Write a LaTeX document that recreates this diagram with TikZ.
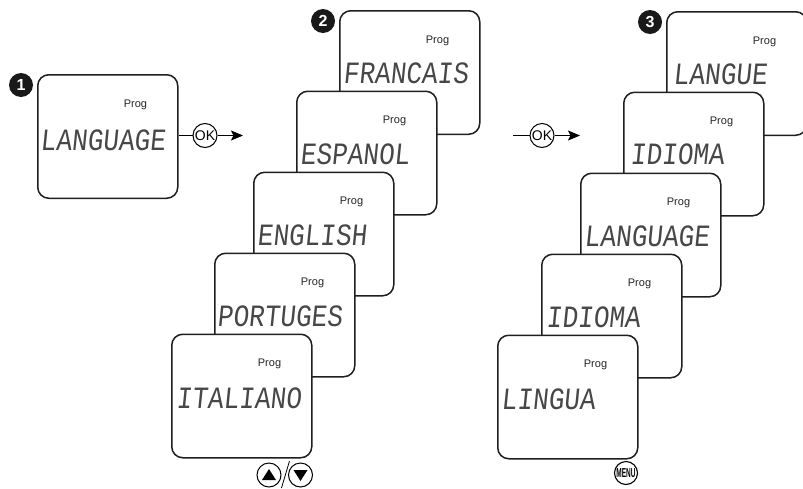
\documentclass[tikz,border=0pt]{standalone}
\usepackage{fontspec}
\setmainfont{Liberation Sans}
\newfontfamily\lcdfont[FakeSlant=0.1,FakeStretch=0.84]{Liberation Mono}
\newfontfamily\menufont[FakeStretch=0.5]{Liberation Sans}
\usetikzlibrary{arrows.meta}
\tikzset{
 x=1pt,y=-1pt,
 screen/.style={draw=black!88,fill=white,line width=1.5pt,rounded corners=11pt,minimum width=140pt,minimum height=123.5pt,inner sep=0pt,anchor=north west},
 prog/.style={font=\fontsize{11}{12}\selectfont,text=black!85,inner sep=0pt},
 lcd/.style={font=\lcdfont\fontsize{31}{32}\selectfont,text=black!72,inner sep=0pt,anchor=west},
 badge/.style={circle,fill=black!90,text=white,font=\bfseries\fontsize{16}{16}\selectfont,minimum size=24pt,inner sep=0pt},
 btn/.style={circle,draw=black,fill=white,line width=1pt,minimum size=24pt,inner sep=0pt},
 okbtn/.style={btn,font=\fontsize{14}{14}\selectfont},
 menubtn/.style={btn,line width=1.1pt,minimum size=23pt,font=\menufont\bfseries\fontsize{13}{13}\selectfont},
 link/.style={draw=black,line width=0.8pt},
 arrowlink/.style={link,-{Stealth[length=12pt,width=10pt,inset=2.5pt]}}
}
\newcommand{\lcdscreen}[6]{%
 \node[screen] (#1) at (#2,#3) {};
 \node[prog] (#1p) at (#2+98.5,#3+30.5) {Prog};
 \node[lcd] (#1t) at (#2+#5,#3+#6) {#4};
}
\begin{document}
\begin{tikzpicture}
\useasboundingbox (0,0) rectangle (803,488);
\begin{scope}
\clip (0,0) rectangle (803,488);
\lcdscreen{a}{37}{74}{LANGUAGE}{3}{66}
\lcdscreen{b}{339}{10}{FRANCAIS}{4}{63}
\lcdscreen{c}{296}{90.5}{ESPANOL}{4}{64}
\lcdscreen{d}{253}{171.5}{ENGLISH}{4}{64}
\lcdscreen{e}{214}{252.5}{PORTUGES}{3}{64}
\lcdscreen{f}{171}{333.5}{ITALIANO}{5}{65}
\lcdscreen{g}{666}{11}{LANGUE}{7}{63}
\lcdscreen{h}{623}{91.5}{IDIOMA}{7}{63}
\lcdscreen{i}{580}{172.5}{LANGUAGE}{4}{64}
\lcdscreen{j}{541}{253.5}{IDIOMA}{5}{64}
\lcdscreen{k}{497}{334.5}{LINGUA}{4}{65}
\end{scope}
\node[badge] (n1) at (21,85) {1};
\node[badge] (n2) at (323,21) {2};
\node[badge] (n3) at (650,22) {3};
\node[okbtn] (ok1) at (205,135.5) {OK};
\coordinate (ok1end) at (243,135.5);
\draw[link] (a.east |- ok1) -- (ok1);
\draw[arrowlink] (ok1) -- (ok1end);
\coordinate (ok2start) at (513,135.5);
\coordinate (ok2end) at (580,135.5);
\node[okbtn] (ok2) at (542,135.5) {OK};
\draw[link] (ok2start) -- (ok2);
\draw[arrowlink] (ok2) -- (ok2end);
\node[btn] (up) at (269,475) {};
\node[btn] (down) at (300.5,475) {};
\fill (up.center) ++(-7,5) -- ++(14,0) -- ++(-7,-11) -- cycle;
\fill (down.center) ++(-7,-5) -- ++(14,0) -- ++(-7,11) -- cycle;
\coordinate (s1) at (289.5,461);
\coordinate (s2) at (281.5,488);
\draw[link] (s1) -- (s2);
\node[menubtn] (menu) at (626,473) {MENU};
\end{tikzpicture}
\end{document}
